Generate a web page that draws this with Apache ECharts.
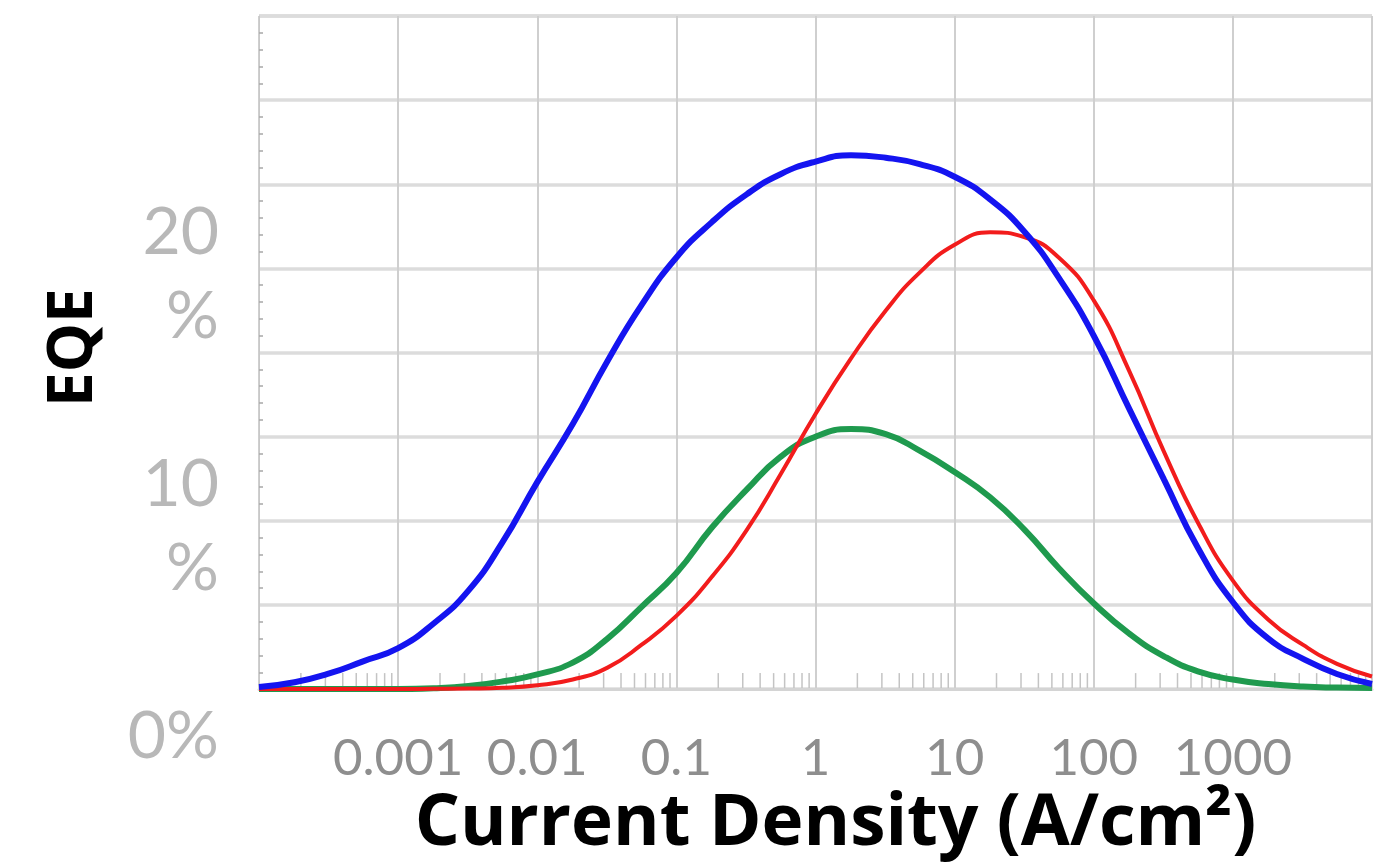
<!DOCTYPE html>
<html>
<head>
<meta charset="utf-8">
<script src="https://cdn.jsdelivr.net/npm/echarts@6/dist/echarts.min.js"></script>
<style>
  html, body { margin: 0; padding: 0; background: #fff; }
  #chart { width: 1378px; height: 865px; }
</style>
</head>
<body>
<div id="chart"></div>
<script>
// current density (A/cm2), quarter-decade steps from 1e-4 to 1e4
var currentDensity = [
  0.0001, 0.00018, 0.00032, 0.00056,
  0.001, 0.0018, 0.0032, 0.0056,
  0.01, 0.018, 0.032, 0.056,
  0.1, 0.18, 0.32, 0.56,
  1, 1.8, 3.2, 5.6,
  10, 18, 32, 56,
  100, 180, 320, 560,
  1000, 1800, 3200, 5600,
  10000
];

// EQE in %
var blueEqe = [
  0.08, 0.27, 0.62, 1.1,
  1.62, 2.6, 3.9, 5.8,
  8.2, 10.5, 13.0, 15.2,
  17.1, 18.5, 19.6, 20.4,
  20.9, 21.15, 21.05, 20.8,
  20.3, 19.4, 18.1, 16.3,
  14.0, 11.1, 8.3, 5.6,
  3.45, 2.0, 1.2, 0.6,
  0.2
];
var redEqe = [
  0, 0, 0, 0,
  0, 0.01, 0.02, 0.05,
  0.15, 0.38, 0.85, 1.75,
  2.9, 4.45, 6.3, 8.5,
  10.9, 13.1, 15.0, 16.5,
  17.6, 18.1, 17.9, 17.1,
  15.4, 12.6, 9.4, 6.6,
  4.3, 2.75, 1.75, 1.0,
  0.5
];
var greenEqe = [
  0, 0, 0, 0,
  0, 0.03, 0.12, 0.3,
  0.58, 1.05, 2.0, 3.25,
  4.6, 6.4, 7.9, 9.2,
  10.0, 10.3, 10.1, 9.45,
  8.6, 7.6, 6.3, 4.8,
  3.4, 2.2, 1.3, 0.7,
  0.38, 0.2, 0.1, 0.06,
  0.04
];

// tick labels, x indexed by exponent + 4
var xTickLabels = ['', '0.001', '0.01', '0.1', '1', '10', '100', '1000', ''];
var yTickLabels = { 0: '0%', 10: '10\n%', 20: '20\n%' };

// log minor ticks (2..9 of every decade)
var minorTicks = [];
for (var e = -4; e < 4; e++) {
  for (var m = 2; m <= 9; m++) {
    minorTicks.push([m * Math.pow(10, e), 0]);
  }
}

function pairs(ys) {
  return currentDensity.map(function (x, i) { return [x, ys[i]]; });
}

var chart = echarts.init(document.getElementById('chart'));

var option = {
  animation: false,
  grid: { left: 259, right: 6, top: 16, bottom: 175, containLabel: false },
  xAxis: {
    type: 'log',
    logBase: 10,
    min: 0.0001,
    max: 10000,
    splitNumber: 8,
    name: 'Current Density (A/cm²)',
    nameLocation: 'middle',
    nameGap: 98,
    nameTextStyle: { fontFamily: 'Open Sans', fontWeight: 'bold', fontSize: 71, color: '#000', padding: [0, 0, 0, 40] },
    axisLine: { show: true, lineStyle: { color: '#d4d4d4', width: 3 } },
    axisTick: { show: false },
    axisLabel: {
      margin: 44,
      fontFamily: 'Lato',
      fontSize: 51,
      color: '#8e8e8e',
      formatter: function (v) {
        var k = Math.round(Math.log10(v)) + 4;
        return xTickLabels[k] || '';
      }
    },
    splitLine: { show: true, lineStyle: { color: '#cfcfcf', width: 2 } }
  },
  yAxis: {
    type: 'value',
    min: 0,
    max: 80 / 3,
    interval: 10 / 3,
    name: 'EQE',
    nameLocation: 'middle',
    nameRotate: 90,
    nameGap: 154,
    nameTextStyle: { fontFamily: 'Open Sans', fontWeight: 'bold', fontSize: 62, color: '#000', padding: [0, 0, 0, 10] },
    axisLine: { show: true, lineStyle: { color: '#c8c8c8', width: 1 } },
    axisTick: { show: false, inside: true },
    minorTick: { show: true, splitNumber: 5, length: 4, lineStyle: { color: '#a8a8a8', width: 1.5 } },
    axisLabel: {
      margin: 40,
      fontFamily: 'Lato',
      fontSize: 66,
      lineHeight: 84,
      color: '#b8b8b8',
      verticalAlign: 'top',
      padding: [6, 0, 0, 0],
      formatter: function (v) {
        var r = Math.round(v * 1000) / 1000;
        return yTickLabels[r] || '';
      }
    },
    splitLine: { show: true, lineStyle: { color: '#dcdcdc', width: 3.5 } }
  },
  series: [
    {
      name: 'minor',
      type: 'custom',
      silent: true,
      z: 1,
      data: minorTicks,
      renderItem: function (params, api) {
        var p = api.coord([api.value(0), 0]);
        return {
          type: 'line',
          shape: { x1: p[0], y1: p[1] - 1, x2: p[0], y2: p[1] - 16 },
          style: { stroke: '#c4c4c4', lineWidth: 1.5 }
        };
      }
    },
    {
      name: 'green',
      type: 'line',
      smooth: true,
      showSymbol: false,
      z: 3,
      data: pairs(greenEqe),
      lineStyle: { color: '#1f9a4e', width: 6 }
    },
    {
      name: 'red',
      type: 'line',
      smooth: true,
      showSymbol: false,
      z: 4,
      data: pairs(redEqe),
      lineStyle: { color: '#f21c1c', width: 4 }
    },
    {
      name: 'blue',
      type: 'line',
      smooth: true,
      showSymbol: false,
      z: 5,
      data: pairs(blueEqe),
      lineStyle: { color: '#1414f0', width: 6 }
    }
  ]
};

chart.setOption(option);
</script>
</body>
</html>
